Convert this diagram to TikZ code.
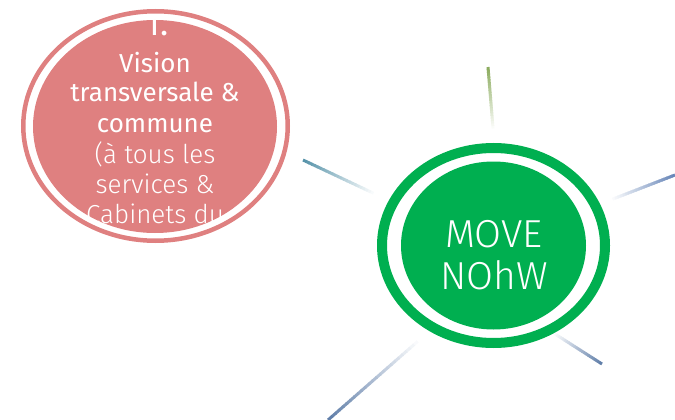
\documentclass[tikz,border=0pt]{standalone}
\usepackage{fontspec}
\newfontfamily\dinfont{Fira Sans}
\newfontfamily\dinlight{Fira Sans Light}
\usetikzlibrary{shapes.geometric,calc}
\definecolor{movegreen}{RGB}{0,175,80}
\definecolor{visionred}{RGB}{223,128,128}
\definecolor{rayolive}{RGB}{140,172,95}
\definecolor{rayteal}{RGB}{88,148,170}
\definecolor{rayblue}{RGB}{105,135,185}
\definecolor{rayslate}{RGB}{98,128,170}
\begin{document}
\begin{tikzpicture}[x=1pt,y=-1pt]

  \tikzset{ring/.style={ellipse,inner sep=0pt,outer sep=0pt},
    vline/.style={text=white,anchor=base,inner sep=0pt}}
  \useasboundingbox (0,0) rectangle (675,420);

  % rays round the centre
  \coordinate (topin) at (493,128);  \coordinate (topout) at (488,67);
  \coordinate (ulin) at (373,193);   \coordinate (ulout) at (303,160);
  \coordinate (urin) at (613,199);   \coordinate (urout) at (675,175);
  \coordinate (lrin) at (555,334);   \coordinate (lrout) at (602,364);
  \coordinate (llin) at (417,342);   \coordinate (llout) at (328,420);
  \foreach \a/\b/\c in {topin/topout/rayolive,ulin/ulout/rayteal,urin/urout/rayblue,lrin/lrout/rayslate,llin/llout/rayslate} {
    \foreach \k in {1,...,24} {
      \pgfmathtruncatemacro\pct{100*\k/24}
      \draw[draw=\c!\pct!white,line width=3] ($(\a)!{(\k-1.2)/24}!(\b)$) -- ($(\a)!{\k/24}!(\b)$);
    }
  }

  % centre
  \node[ring,draw=movegreen,line width=10pt,minimum width=223,minimum height=195] (moveouter) at (493.5,245.5) {};
  \node[ring,fill=movegreen,minimum width=185,minimum height=168] (move) at (moveouter.center) {};
  \node[vline] (move1) at (494,247) {\dinlight\fontsize{39}{42}\selectfont MOVE};
  \node[vline] (move2) at (494,289) {\dinlight\fontsize{39}{42}\selectfont NOhW};

  % 1.
  \node[ring,draw=visionred,line width=4.5pt,minimum width=264.5,minimum height=229.5] (visionouter) at (155.5,126) {};
  \node[ring,fill=visionred,minimum width=244,minimum height=213] (vision) at (155,126.5) {};
  \begin{scope}
    \clip (vision.center) ellipse (122pt and 106.5pt);
    \node[vline] (num) at (157,36) {\dinfont\fontsize{34}{36}\selectfont 1.};
    \foreach \txt/\yy/\fnt in {Vision/73/\dinfont,transversale \&/102/\dinfont,commune/132/\dinfont,{(à tous les}/163/\dinlight,services \&/193/\dinlight,Cabinets du/223/\dinlight}
      \node[vline] at (155,\yy) {\fnt\fontsize{26}{30}\selectfont \txt};
  \end{scope}
\end{tikzpicture}
\end{document}
